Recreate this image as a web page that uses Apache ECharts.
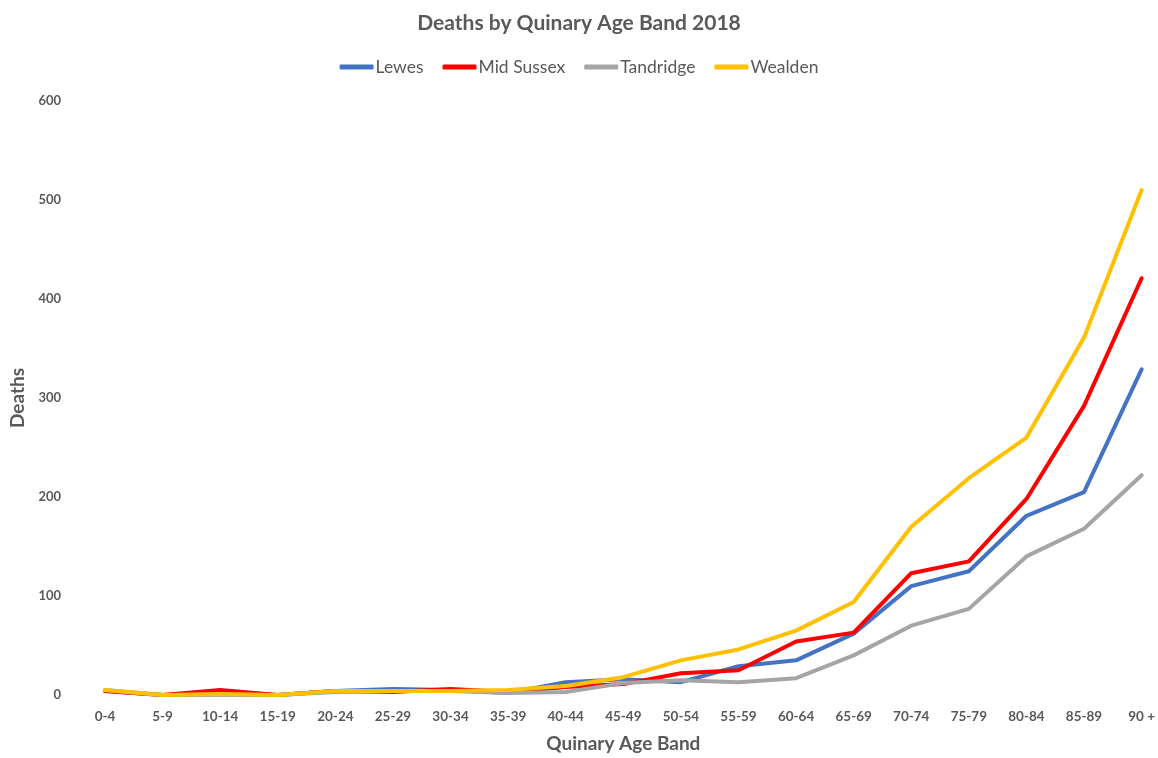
<!DOCTYPE html>
<html>
<head>
<meta charset="utf-8">
<script src="https://cdn.jsdelivr.net/npm/echarts@6/dist/echarts.min.js"></script>
<style>
  html, body { margin: 0; padding: 0; background: #fff; }
  #chart { width: 1158px; height: 758px; }
</style>
</head>
<body>
<div id="chart"></div>
<script>
// Age bands along the horizontal axis
const ageBands = ['0-4', '5-9', '10-14', '15-19', '20-24', '25-29', '30-34', '35-39', '40-44',
  '45-49', '50-54', '55-59', '60-64', '65-69', '70-74', '75-79', '80-84', '85-89', '90 +'];

// Deaths per district, one value per age band
const lewes      = [4, 0, 1, 0, 4, 6, 5, 2, 13, 16, 13, 29, 35, 62, 110, 125, 181, 205, 329];
const midSussex  = [4, 0, 5, 0, 4, 3, 6, 3, 8, 11, 22, 25, 54, 63, 123, 135, 198, 292, 421];
const tandridge  = [5, 0, 0, 0, 3, 4, 4, 2, 3, 12, 15, 13, 17, 40, 70, 87, 140, 168, 222];
const wealden    = [5, 0, 1, 0, 4, 4, 4, 5, 9, 18, 35, 46, 65, 94, 170, 219, 260, 361, 510];

const seriesNames = ['Lewes', 'Mid Sussex', 'Tandridge', 'Wealden'];
const seriesData = [lewes, midSussex, tandridge, wealden];
const seriesColors = ['#4472C4', '#FF0000', '#A5A5A5', '#FFC000'];

const font = 'Lato, "Open Sans", sans-serif';
const textGrey = '#595959';

const chart = echarts.init(document.getElementById('chart'));
chart.setOption({
  animation: false,
  textStyle: { fontFamily: font },
  title: {
    text: 'Deaths by Quinary Age Band 2018',
    left: 'center',
    top: 8,
    textStyle: { fontFamily: font, fontSize: 21, fontWeight: 'bold', color: textGrey }
  },
  legend: {
    data: seriesNames,
    top: 53,
    left: 'center',
    icon: 'roundRect',
    itemWidth: 34,
    itemHeight: 5,
    itemGap: 19,
    textStyle: { fontFamily: font, fontSize: 17.5, color: textGrey, padding: [0, 0, 0, -3] }
  },
  grid: { left: 105, right: 16, top: 101, bottom: 57 },
  xAxis: {
    type: 'category',
    data: ageBands,
    boundaryGap: false,
    name: 'Quinary Age Band',
    nameLocation: 'middle',
    nameGap: 39,
    nameTextStyle: { fontFamily: font, fontSize: 19, fontWeight: 'bold', color: textGrey },
    axisLine: { show: false },
    axisTick: { show: false },
    axisLabel: { fontFamily: font, fontSize: 13.5, fontWeight: 'bold', color: textGrey, margin: 15, interval: 0 },
    splitLine: { show: false }
  },
  yAxis: {
    type: 'value',
    min: 0,
    max: 600,
    interval: 100,
    name: 'Deaths',
    nameLocation: 'middle',
    nameGap: 72,
    nameTextStyle: { fontFamily: font, fontSize: 19, fontWeight: 'bold', color: textGrey },
    axisLine: { show: false },
    axisTick: { show: false },
    axisLabel: { fontFamily: font, fontSize: 13, fontWeight: 'bold', color: textGrey, margin: 44 },
    splitLine: { show: false }
  },
  series: seriesNames.map((name, i) => ({
    name: name,
    type: 'line',
    data: seriesData[i],
    showSymbol: false,
    symbol: 'none',
    color: seriesColors[i],
    lineStyle: { width: 4, color: seriesColors[i], cap: 'round', join: 'round' }
  }))
});
</script>
</body>
</html>
